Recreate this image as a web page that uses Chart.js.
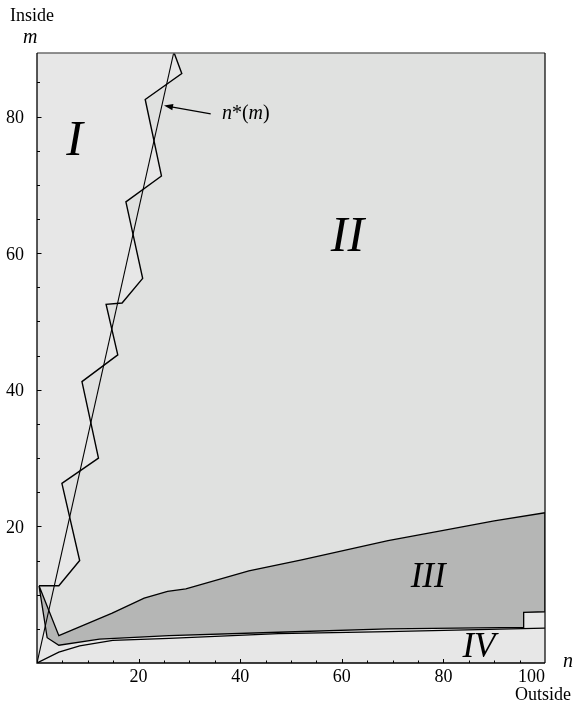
<!DOCTYPE html>
<html>
<head>
<meta charset="utf-8">
<script src="https://cdn.jsdelivr.net/npm/chart.js@4/dist/chart.umd.min.js"></script>
<style>
  html, body { margin: 0; padding: 0; background: #fff; }
</style>
</head>
<body>
<canvas id="chart" width="575" height="704"></canvas>
<script>
// axis ranges (n = outside, m = inside)
const nMin = 0, nMax = 100;
const mMin = 0, mMax = 89.3;

// continuous threshold n*(m)
const starN = [0, 26.9];
const starM = [0, 89.3];

// discrete threshold (zigzag)
const zigN = [0.4, 4.3, 8.4, 4.9, 12.1, 8.85, 15.9, 13.6, 16.75, 20.8, 17.5, 24.5, 21.3, 28.5, 27.0];
const zigM = [11.3, 11.3, 15.0, 26.3, 30.0, 41.2, 45.1, 52.5, 52.7, 56.3, 67.5, 71.3, 82.5, 86.3, 89.3];

// region III upper edge
const upN = [0.4, 4.3, 14.8, 21.1, 25.7, 29.3, 41.7, 52.1, 69.1, 80, 90, 100];
const upM = [11.3, 4.0, 7.3, 9.5, 10.5, 10.85, 13.5, 15.1, 17.9, 19.4, 20.8, 22.0];

// region III lower edge
const lowN = [0.4, 2.0, 4.3, 12.3, 18.2, 26, 47.5, 69.1, 95.8, 95.8, 100];
const lowM = [11.3, 3.7, 2.6, 3.5, 3.7, 4.0, 4.5, 5.0, 5.2, 7.4, 7.5];

// region IV upper edge
const ivN = [0, 4.3, 8.4, 14.9, 26, 47.5, 69.1, 100];
const ivM = [0, 1.6, 2.5, 3.3, 3.6, 4.3, 4.6, 5.1];

const xTickLabels = [20, 40, 60, 80, 100];
const yTickLabels = [20, 40, 60, 80];

function pts(ns, ms) {
    return ns.map((n, i) => ({ x: n, y: ms[i] }));
}

const regionII = pts(zigN, zigM)
    .concat([{ x: nMax, y: mMax }])
    .concat(pts(upN, upM).reverse());
const regionIII = pts(upN, upM).concat(pts(lowN, lowM).reverse());

const SERIF = '"Liberation Serif", "Times New Roman", serif';

const decor = {
    id: 'decor',
    beforeDatasetsDraw(chart) {
        const { ctx, chartArea: a } = chart;
        ctx.save();
        ctx.fillStyle = '#e7e7e7';
        ctx.fillRect(a.left, a.top, a.right - a.left, a.bottom - a.top);
        ctx.restore();
    },
    afterDraw(chart) {
        const { ctx, chartArea: a, scales } = chart;
        const x = scales.x, y = scales.y;
        ctx.save();

        // frame
        ctx.lineWidth = 1.3;
        ctx.strokeStyle = '#6b6b6b';
        ctx.beginPath();
        ctx.moveTo(a.left, a.top);
        ctx.lineTo(a.right, a.top);
        ctx.stroke();
        ctx.strokeStyle = '#111';
        ctx.beginPath();
        ctx.moveTo(a.right, a.top);
        ctx.lineTo(a.right, a.bottom);
        ctx.stroke();
        ctx.strokeStyle = '#000';
        ctx.beginPath();
        ctx.moveTo(a.left, a.top);
        ctx.lineTo(a.left, a.bottom);
        ctx.lineTo(a.right, a.bottom);
        ctx.stroke();

        // inward ticks
        ctx.lineWidth = 1;
        for (let v = 5; v < nMax; v += 5) {
            const px = Math.round(x.getPixelForValue(v)) + 0.5;
            const len = v % 20 === 0 ? 4 : 2.5;
            ctx.beginPath();
            ctx.moveTo(px, a.bottom);
            ctx.lineTo(px, a.bottom - len);
            ctx.stroke();
        }
        for (let v = 5; v < mMax; v += 5) {
            const py = Math.round(y.getPixelForValue(v)) + 0.5;
            const len = v % 20 === 0 ? 4.5 : 3;
            ctx.beginPath();
            ctx.moveTo(a.left, py);
            ctx.lineTo(a.left + len, py);
            ctx.stroke();
        }

        // axis names
        ctx.fillStyle = '#000';
        ctx.textBaseline = 'alphabetic';
        ctx.textAlign = 'left';
        ctx.font = '18px ' + SERIF;
        ctx.fillText('Inside', 10, 21);
        ctx.fillText('Outside', 515, 700);
        ctx.font = 'italic 20px ' + SERIF;
        ctx.fillText('m', 23, 43);
        ctx.fillText('n', 563, 667);

        // region names
        ctx.textAlign = 'center';
        const regions = [
            { t: 'I', n: 7.4, m: 74.4, size: 50 },
            { t: 'II', n: 61.1, m: 60.3, size: 50 },
            { t: 'III', n: 77.0, m: 11.1, size: 35 },
            { t: 'IV', n: 87.0, m: 0.9, size: 35 }
        ];
        for (const r of regions) {
            ctx.font = 'italic ' + r.size + 'px ' + SERIF;
            ctx.fillText(r.t, x.getPixelForValue(r.n), y.getPixelForValue(r.m));
        }

        // n*(m) label with arrow
        let lx = x.getPixelForValue(36.4);
        const ly = y.getPixelForValue(79.6);
        ctx.textAlign = 'left';
        const parts = [['n', true], ['*(', false], ['m', true], [')', false]];
        for (const [s, it] of parts) {
            ctx.font = (it ? 'italic ' : '') + '20px ' + SERIF;
            ctx.fillText(s, lx, ly);
            lx += ctx.measureText(s).width;
        }
        const x0 = x.getPixelForValue(34.2), y0 = y.getPixelForValue(80.4);
        const x1 = x.getPixelForValue(25.0), y1 = y.getPixelForValue(81.6);
        const ang = Math.atan2(y1 - y0, x1 - x0);
        ctx.lineWidth = 1.2;
        ctx.beginPath();
        ctx.moveTo(x0, y0);
        ctx.lineTo(x1 - 6 * Math.cos(ang), y1 - 6 * Math.sin(ang));
        ctx.stroke();
        ctx.beginPath();
        ctx.moveTo(x1, y1);
        ctx.lineTo(x1 - 9 * Math.cos(ang) + 3.2 * Math.sin(ang), y1 - 9 * Math.sin(ang) - 3.2 * Math.cos(ang));
        ctx.lineTo(x1 - 9 * Math.cos(ang) - 3.2 * Math.sin(ang), y1 - 9 * Math.sin(ang) + 3.2 * Math.cos(ang));
        ctx.closePath();
        ctx.fill();

        ctx.restore();
    }
};

const lineStyle = {
    showLine: true,
    fill: false,
    pointRadius: 0,
    pointHoverRadius: 0,
    borderColor: '#000',
    tension: 0
};

new Chart(document.getElementById('chart'), {
    type: 'scatter',
    data: {
        datasets: [
            Object.assign({ label: 'n*(m)', data: pts(starN, starM), borderWidth: 1.1, order: 0 }, lineStyle),
            Object.assign({ label: 'discrete', data: pts(zigN, zigM), borderWidth: 1.4, order: 0 }, lineStyle),
            Object.assign({ label: 'IV edge', data: pts(ivN, ivM), borderWidth: 1.3, order: 0 }, lineStyle),
            Object.assign({}, lineStyle, {
                label: 'III', data: regionIII, fill: 'shape',
                backgroundColor: '#b5b6b5', borderWidth: 1.3, order: 1
            }),
            Object.assign({}, lineStyle, {
                label: 'II', data: regionII, fill: 'shape',
                backgroundColor: '#e0e1e0', borderWidth: 0, borderColor: 'rgba(0,0,0,0)', order: 2
            })
        ]
    },
    options: {
        responsive: false,
        animation: false,
        devicePixelRatio: 1,
        layout: { padding: { top: 53, right: 30, left: 0, bottom: 0 } },
        plugins: {
            legend: { display: false },
            tooltip: { enabled: false }
        },
        scales: {
            x: {
                type: 'linear',
                min: nMin,
                max: nMax,
                grid: { display: false },
                border: { display: false },
                ticks: {
                    stepSize: 5,
                    autoSkip: false,
                    maxRotation: 0,
                    align: 'inner',
                    padding: -5,
                    color: '#000',
                    font: { family: SERIF, size: 18 },
                    callback: v => xTickLabels.includes(v) ? String(v) : ''
                },
                afterFit: s => { s.height = 41; }
            },
            y: {
                type: 'linear',
                min: mMin,
                max: mMax,
                grid: { display: false },
                border: { display: false },
                ticks: {
                    stepSize: 5,
                    autoSkip: false,
                    padding: 5,
                    labelOffset: 2,
                    color: '#000',
                    font: { family: SERIF, size: 18 },
                    callback: v => yTickLabels.includes(v) ? String(v) : ''
                },
                afterFit: s => { s.width = 37; }
            }
        }
    },
    plugins: [decor]
});
</script>
</body>
</html>
